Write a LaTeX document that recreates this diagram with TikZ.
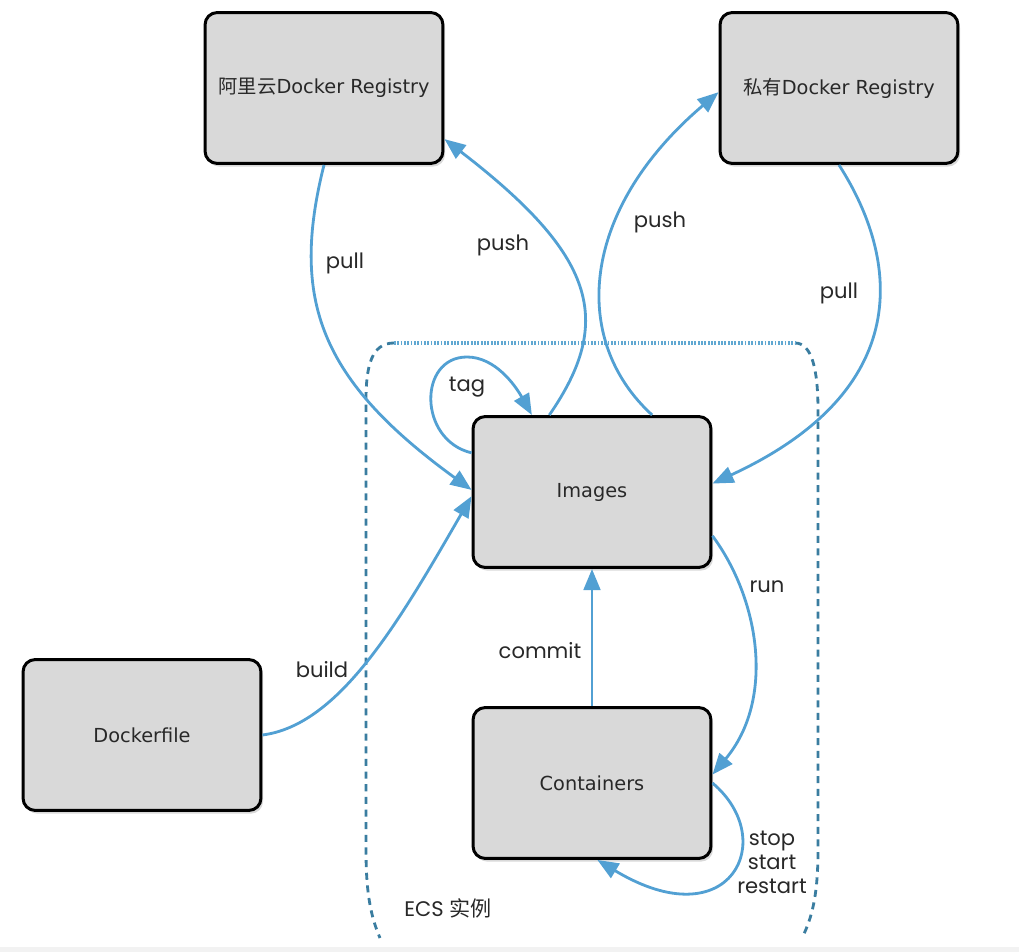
\documentclass[tikz,border=0pt]{standalone}
\usepackage{fontspec}
\setmainfont{Poppins}
\newfontfamily\boxfont{DejaVu Sans}
\newfontfamily\cjk{Noto Sans CJK SC}
\usetikzlibrary{arrows.meta,shadows}

\definecolor{flowblue}{RGB}{82,160,211}
\definecolor{ecsblue}{RGB}{58,125,160}
\definecolor{ecstop}{RGB}{96,168,210}
\definecolor{boxgray}{RGB}{217,217,217}
\definecolor{lbltext}{RGB}{40,40,40}

\tikzset{
  dockbox/.style={draw=black, line width=1.7pt, fill=boxgray, rounded corners=7pt,
    minimum width=4.76cm, minimum height=3.02cm, inner sep=0pt, text=lbltext,
    drop shadow={shadow xshift=1.2pt, shadow yshift=-1.8pt, opacity=0.3},
    font=\boxfont\fontsize{11}{13}\selectfont},
  flow/.style={draw=flowblue, line width=1.6pt, -{Triangle[length=12pt,width=9.5pt]}},
  lbl/.style={font=\fontsize{12}{13.6}\selectfont, text=lbltext, inner sep=0pt, align=center},
}

\begin{document}
\begin{tikzpicture}[x=0.02cm,y=-0.02cm]
\useasboundingbox (0,0) rectangle (1019,952);
\fill[gray!10] (0,947) rectangle (1019,952);

% ECS instance outline
\draw[ecsblue, line width=1.6pt, dash pattern=on 4pt off 3.2pt] (394,343) .. controls (372,343) and (366,365) .. (366,400) -- (366,850) .. controls (366,890) and (370,915) .. (380,938);
\draw[ecsblue, line width=1.6pt, dash pattern=on 4pt off 3.2pt] (795,343) .. controls (812,343) and (818,370) .. (818,410) -- (818,850) .. controls (818,895) and (812,918) .. (802,938);
\draw[ecstop, line width=2.6pt, dash pattern=on 1pt off 0.9pt] (394,343) -- (795,343);
\node[lbl] (ecs) at (448,908) {ECS {\cjk 实例}};

\node[dockbox] (ali) at (324,88) {{\cjk 阿里云}Docker Registry};
\node[dockbox] (priv) at (839,88) {{\cjk 私有}Docker Registry};
\node[dockbox] (img) at (592,492) {Images};
\node[dockbox] (dock) at (142,735) {Dockerfile};
\node[dockbox] (cont) at (592,783) {Containers};

\coordinate (tagtop) at (467,357);

\draw[flow] (ali.south) .. controls (290,300) and (320,380) .. (img.179);
\draw[flow] (img.119) .. controls (615,320) and (595,255) .. (ali.-23);
\draw[flow] (img.52) .. controls (570,340) and (580,210) .. (priv.182);
\draw[flow] (priv.south) .. controls (900,260) and (915,390) .. (img.4);
\draw[flow] (img.162) .. controls (418,440) and (418,357) .. (tagtop) .. controls (495,357) and (515,385) .. (img.128);
\draw[flow] (dock.east) .. controls (340,725) and (400,620) .. (img.182);
\draw[flow] (cont.north) -- (img.south);
\draw[flow] (img.-20) .. controls (760,600) and (775,700) .. (cont.4);
\draw[flow] (cont.east) .. controls (780,840) and (730,940) .. (cont.-86);

\node[lbl] (lpullali) at (345,263) {pull};
\node[lbl] (lpushali) at (503,245) {push};
\node[lbl] (lpushpriv) at (660,222) {push};
\node[lbl] (lpullpriv) at (839,293) {pull};
\node[lbl] (ltag) at (467,387) {tag};
\node[lbl] (lbuild) at (322,670) {build};
\node[lbl] (lcommit) at (540,651) {commit};
\node[lbl] (lrun) at (767,587) {run};
\node[lbl] (lstop) at (772,862) {stop\\start\\restart};

\end{tikzpicture}
\end{document}
